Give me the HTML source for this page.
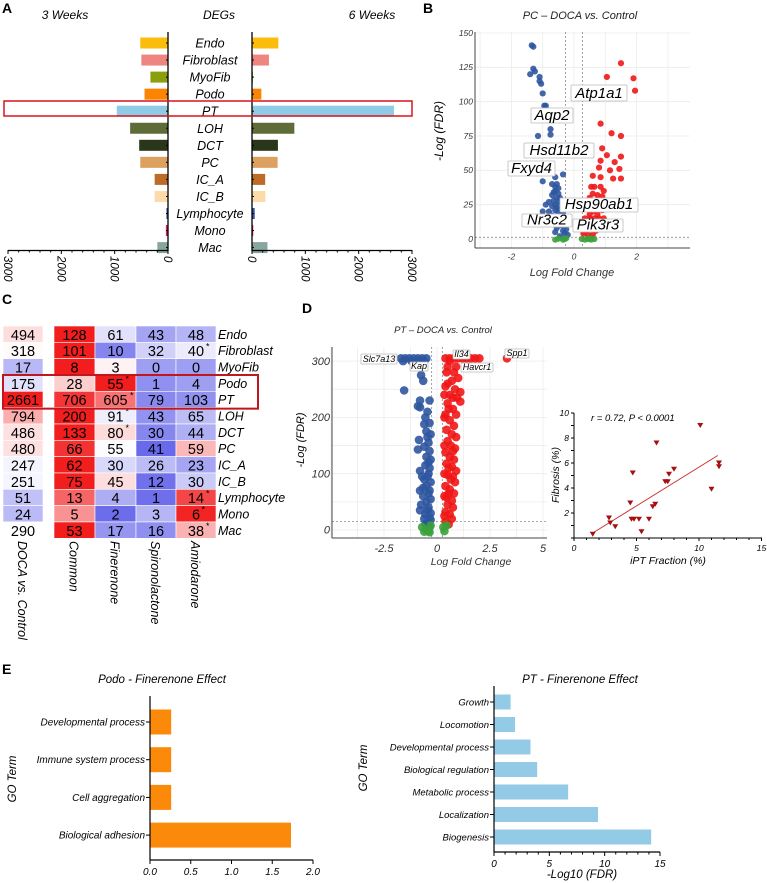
<!DOCTYPE html>
<html><head><meta charset="utf-8"><style>
html,body{margin:0;padding:0;background:#fff;}
svg{display:block;font-family:"Liberation Sans",sans-serif;}
.it{font-style:italic;}
</style></head><body>
<svg id="fig" width="767" height="883" viewBox="0 0 767 883">
<g font-weight="bold" font-size="14">
<text x="2" y="13">A</text>
<text x="423" y="13">B</text>
<text x="2" y="304">C</text>
<text x="302" y="313">D</text>
<text x="2" y="674">E</text>
</g>
<g id="pA"></g>
<g id="pB"></g>
<g id="pC"></g>
<g id="pD"></g>
<g id="pS"></g>
<g id="pE1"></g>
<g id="pE2"></g>
</svg>
<script>
// ---------- Panel A data ----------
const aCells=["Endo","Fibroblast","MyoFib","Podo","PT","LOH","DCT","PC","IC_A","IC_B","Lymphocyte","Mono","Mac"];
const aWeek3=[520,500,330,440,960,710,540,520,250,250,30,40,200];
const aWeek6=[494,318,17,175,2661,794,486,480,247,251,51,24,290];
const aColors=["#fbbd0b","#ef8580","#8b9f0c","#fb8500","#8fcae6","#5e6d38","#29361a","#dca15f","#bd6b27","#fddba8","#3a55a8","#e0245e","#86a69e"];
const aTicks=[0,1000,2000,3000];
// ---------- Panel B data ----------
const bBlue=[[-1.35,141],[-1.3,140],[-1.3,124],[-1.25,122],[-1.4,120],[-1.1,118],[-1.1,115],[-1.05,113],[-1.0,106],[-0.95,97],[-0.9,97],[-0.75,80],[-0.75,76],[-1.15,75],[-1.25,62],[-0.85,62],[-0.7,62],[-1.2,50],[-1.0,52],[-0.9,52],[-0.8,52],[-0.7,52],[-0.9,48],[-0.35,47],[-0.6,45],[-1.0,42],[-0.7,40],[-0.6,38],[-0.5,37],[-0.6,35],[-0.5,33],[-0.7,32],[-0.55,30],[-0.45,30],[-0.65,28],[-0.8,27],[-0.5,27],[-0.4,26],[-0.3,26],[-0.9,25],[-0.7,24],[-0.55,23],[-0.45,22],[-0.6,21],[-1.0,20],[-0.8,20],[-0.5,19],[-0.35,18],[-0.7,17],[-0.5,15],[-0.6,13],[-0.85,13],[-0.4,10],[-0.55,8],[-0.35,6],[-0.3,4],[-0.2,3],[-0.45,2],[-0.25,7],[-0.6,5],[-0.65,34],[-0.55,40],[-0.6,25],[-0.45,12]];
const bRed=[[1.5,128],[1.05,118],[1.9,117],[1.45,110],[1.95,108],[0.85,84],[1.2,77],[1.5,75],[0.9,66],[1.5,60],[1.05,61],[1.3,56],[0.85,57],[0.8,52],[1.15,50],[1.45,51],[0.6,46],[0.85,45],[1.25,44],[1.5,44],[0.55,38],[0.65,38],[0.85,38],[0.95,35],[0.6,33],[0.75,32],[0.9,31],[1.25,27],[0.5,30],[0.7,28],[1.0,28],[0.55,25],[0.8,25],[0.45,22],[0.6,20],[0.9,21],[0.35,15],[0.5,15],[0.65,15],[0.8,15],[0.95,15],[0.4,12],[0.55,12],[0.7,12],[0.85,12],[0.4,7],[0.55,7],[0.3,4],[0.45,3],[0.6,3],[0.7,6],[0.5,18],[0.75,18]];
const bGreen=[[-0.6,-0.5],[-0.35,-0.5],[-0.3,0],[0.25,0],[0.35,-0.5],[0.45,0],[0.55,-0.5],[0.65,0],[-0.5,0.2],[-0.25,0.5],[0.5,0.5]];
const bXTicks=[-2,0,2];
const bYTicks=[0,25,50,75,100,125,150];
// ---------- Panel C data ----------
const cRows=["Endo","Fibroblast","MyoFib","Podo","PT","LOH","DCT","PC","IC_A","IC_B","Lymphocyte","Mono","Mac"];
const cCols=["DOCA vs. Control","Common","Finerenone","Spironolactone","Amiodarone"];
const cDoca=[494,318,17,175,2661,794,486,480,247,251,51,24,290];
const cCommon=[128,101,8,28,706,200,133,66,62,75,13,5,53];
const cFin=[61,10,3,55,605,91,80,55,30,45,4,2,17];
const cSpiro=[43,32,0,1,79,43,30,41,26,12,1,3,16];
const cAmio=[48,40,0,4,103,65,44,59,23,30,14,6,38];
const cFinStar=[0,0,0,1,1,1,1,0,0,0,0,0,0];
const cAmioStar=[0,1,0,0,0,0,0,0,0,0,1,1,1];
// ---------- Panel D data ----------
const dBlue=[[-1.7,305],[-1.5,305],[-1.3,305],[-1.1,305],[-0.9,305],[-0.7,305],[-0.5,305],[-1.6,300],[-1.2,300],[-0.8,300],[-0.6,300],[-0.75,275],[-0.65,265],[-1.55,248],[-0.8,230],[-0.35,230],[-0.8,218],[-0.9,220],[-0.55,200],[-0.6,188],[-0.5,175],[-0.45,165],[-0.85,160],[-0.4,155],[-0.6,148],[-0.9,143],[-0.35,140],[-0.5,130],[-0.3,125],[-0.55,115],[-0.8,105],[-0.4,100],[-0.6,90],[-0.3,85],[-0.5,78],[-0.8,70],[-0.4,65],[-0.65,60],[-0.3,55],[-0.5,50],[-0.75,45],[-0.4,40],[-0.8,35],[-0.3,30],[-0.55,28],[-0.35,22],[-0.6,20],[-0.3,18],[-0.45,14],[-0.35,190],[-0.45,210],[-0.3,170],[-0.4,120],[-0.35,110],[-0.45,95],[-0.35,70],[-0.45,35],[-0.55,10],[-0.35,5],[-0.65,75],[-0.7,95]];
const dRed=[[0.4,305],[0.6,305],[0.8,305],[1.0,305],[1.2,305],[1.4,305],[1.6,305],[1.8,305],[2.0,305],[3.3,305],[0.5,290],[0.9,290],[1.0,270],[0.45,280],[0.7,265],[0.4,255],[0.85,250],[1.1,245],[0.6,240],[0.95,235],[1.1,228],[0.5,225],[0.75,215],[0.4,205],[0.9,205],[0.6,195],[0.8,185],[0.45,178],[0.7,170],[0.9,165],[0.5,158],[0.65,150],[0.85,145],[0.4,138],[0.6,130],[0.8,125],[0.45,118],[0.7,112],[0.9,105],[0.5,98],[0.65,90],[0.85,85],[0.4,78],[0.6,72],[0.8,65],[0.45,58],[0.7,52],[0.5,45],[0.75,40],[0.4,32],[0.6,28],[0.7,20],[0.4,15],[0.55,10],[0.35,25],[0.35,60],[0.35,100],[0.35,150],[0.35,200],[0.55,215],[0.55,110],[0.55,65],[0.75,95],[0.75,140],[0.75,235],[0.35,240],[0.6,300],[0.5,260],[0.8,280]];
const dGreen=[[-0.7,5],[-0.5,0],[-0.3,8],[-0.4,-2],[0.3,5],[0.45,8],[0.35,-2],[-0.6,-3],[-0.35,-4]];
const dXTicks=[-2.5,0,2.5,5];
const dYTicks=[0,100,200,300];
// ---------- Scatter data ----------
const sX=[1.5,2.8,2.9,3.3,4.5,4.6,4.7,4.8,5.2,5.4,6.0,6.3,6.5,6.6,7.3,7.5,7.6,8.0,10.1,11.0,11.6,11.6];
const sY=[0.3,1.6,1.2,0.9,2.8,1.5,5.2,1.5,1.5,0.5,1.5,2.5,2.7,7.6,4.5,4.5,5.1,5.5,9.0,3.9,6.0,5.7];
const sFit=[[1.5,0.4],[11.5,6.6]];
const sXTicks=[0,5,10,15];
const sYTicks=[2,4,6,8,10];
// ---------- Panel E data ----------
const e1Terms=["Developmental process","Immune system process","Cell aggregation","Biological adhesion"];
const e1Vals=[0.26,0.26,0.26,1.73];
const e1Ticks=[0,0.5,1.0,1.5,2.0];
const e2Terms=["Growth","Locomotion","Developmental process","Biological regulation","Metabolic process","Localization","Biogenesis"];
const e2Vals=[1.5,1.9,3.3,3.9,6.7,9.4,14.2];
const e2Ticks=[0,5,10,15];

const NS="http://www.w3.org/2000/svg";
function mk(parent,tag,attrs,txt){const e=document.createElementNS(NS,tag);for(const k in attrs)e.setAttribute(k,attrs[k]);if(txt!==undefined)e.textContent=txt;parent.appendChild(e);return e;}

// ===== Panel A =====
(function(){
const g=document.getElementById('pA');
const xL=v=>168-v*160/3000, xR=v=>252+v*160/3000, rowY=i=>43+i*17.05;
let t;
t=mk(g,'text',{x:65,y:19,'text-anchor':'middle','font-size':12,class:'it'},'3 Weeks');

t=mk(g,'text',{x:219,y:19,'text-anchor':'middle','font-size':12,class:'it'},'DEGs');

t=mk(g,'text',{x:372,y:19,'text-anchor':'middle','font-size':12,class:'it'},'6 Weeks');

aCells.forEach((c,i)=>{
 const y=rowY(i);
 let r=mk(g,'rect',{x:xL(aWeek3[i]),y:y-5.5,width:168-xL(aWeek3[i]),height:11,fill:aColors[i]});
 
 r=mk(g,'rect',{x:252,y:y-5.5,width:xR(aWeek6[i])-252,height:11,fill:aColors[i]});
 
 const l=mk(g,'text',{x:210,y:y+4.5,'text-anchor':'middle','font-size':12.5,class:'it'},c);
 
 mk(g,'line',{x1:166,x2:168,y1:y,y2:y,stroke:'#000'});
 mk(g,'line',{x1:252,x2:254,y1:y,y2:y,stroke:'#000'});
});
mk(g,'line',{x1:168,x2:168,y1:32,y2:251,stroke:'#000','stroke-width':1.3});
mk(g,'line',{x1:252,x2:252,y1:32,y2:251,stroke:'#000','stroke-width':1.3});
mk(g,'line',{x1:8,x2:168,y1:250.5,y2:250.5,stroke:'#000','stroke-width':1.3});
mk(g,'line',{x1:252,x2:412,y1:250.5,y2:250.5,stroke:'#000','stroke-width':1.3});
for(let v=0;v<=3000;v+=200){
 const big=v%1000===0;
 mk(g,'line',{x1:xL(v),x2:xL(v),y1:250,y2:big?254:252.5,stroke:'#000'});
 mk(g,'line',{x1:xR(v),x2:xR(v),y1:250,y2:big?254:252.5,stroke:'#000'});
}
aTicks.forEach(v=>{
 let a=mk(g,'text',{x:0,y:0,'font-size':11.5,class:'it',transform:`translate(${xL(v)-4},256) rotate(90)`},String(v));
 
 a=mk(g,'text',{x:0,y:0,'font-size':11.5,class:'it',transform:`translate(${xR(v)-4},256) rotate(90)`},String(v));
 
});
const box=mk(g,'rect',{x:4,y:101,width:408,height:15,fill:'none',stroke:'#d8141c','stroke-width':1.5});

})();

// ===== Volcano helper =====
function volcano(g,o){
 const X=v=>o.x0+(v-o.xmin)*o.sx, Y=v=>o.y0-v*o.sy;
 mk(g,'rect',{x:o.L,y:o.T,width:o.R-o.L,height:o.B-o.T,fill:'#fff'});
 o.xgrid.forEach(v=>mk(g,'line',{x1:X(v),x2:X(v),y1:o.T,y2:o.B,stroke:'#ececec','stroke-width':0.8}));
 o.ygrid.forEach(v=>mk(g,'line',{x1:o.L,x2:o.R,y1:Y(v),y2:Y(v),stroke:'#ececec','stroke-width':0.8}));
 o.vdash.forEach(v=>mk(g,'line',{x1:X(v),x2:X(v),y1:o.T,y2:o.B,stroke:'#777','stroke-dasharray':'2,2','stroke-width':0.7}));
 mk(g,'line',{x1:o.L,x2:o.R,y1:Y(o.hdash),y2:Y(o.hdash),stroke:'#777','stroke-dasharray':'2,2','stroke-width':0.7});
 [[o.blue,'#2f56a0','blue'],[o.red,'#f01616','red'],[o.green,'#3aa23a','green']].forEach(([pts,col,nm])=>{
  pts.forEach(p=>{const c=mk(g,'circle',{cx:X(p[0]),cy:Y(p[1]),r:o.r,fill:col,'fill-opacity':0.9});
   });
 });
 mk(g,'line',{x1:o.L,x2:o.L,y1:o.T,y2:o.B,stroke:'#444','stroke-width':1});
 mk(g,'line',{x1:o.L,x2:o.R,y1:o.B,y2:o.B,stroke:'#444','stroke-width':1});
 o.xticks.forEach(v=>{const t=mk(g,'text',{x:X(v),y:o.B+o.fs+3,'text-anchor':'middle','font-size':o.fs,class:'it',fill:'#333'},String(v));
  });
 o.yticks.forEach(v=>{const t=mk(g,'text',{x:o.L-2,y:Y(v)+o.fs/3,'text-anchor':'end','font-size':o.fs,class:'it',fill:'#333'},String(v));
  });
 return {X,Y};
}
function gene(g,x,y,w,h,txt,fs){
 const r=mk(g,'rect',{x:x,y:y,width:w,height:h,fill:'#fff',stroke:'#bbb','stroke-width':0.8,rx:1});
 
 const t=mk(g,'text',{x:x+w/2,y:y+h-h*0.2,'text-anchor':'middle','font-size':fs,class:'it'},txt);
 
}

// ===== Panel B =====
(function(){
const g=document.getElementById('pB');
let t=mk(g,'text',{x:580,y:19,'text-anchor':'middle','font-size':11,class:'it',fill:'#222'},'PC – DOCA vs. Control');

volcano(g,{L:475,R:690,T:32,B:248,x0:574,xmin:0,sx:31.3,y0:239,sy:206/150,
 xgrid:[-3,-2,-1,0,1,2,3],ygrid:[0,25,50,75,100,125,150],vdash:[-0.27,0.27],hdash:1.3,
 blue:bBlue,red:bRed,green:bGreen,r:3.1,xticks:bXTicks,yticks:bYTicks,fs:8.5});
gene(g,571,85,56,16,'Atp1a1',15);
gene(g,531,108,42,15,'Aqp2',15);
gene(g,524,143,70,15,'Hsd11b2',15);
gene(g,508,161,47,15,'Fxyd4',15);
gene(g,560,198,78,14,'Hsp90ab1',15);
gene(g,522,214,50,13,'Nr3c2',15);
gene(g,573,219,50,13,'Pik3r3',15);
t=mk(g,'text',{x:0,y:0,'font-size':12,class:'it',transform:'translate(443,131) rotate(-90)','text-anchor':'middle'},'-Log (FDR)');

t=mk(g,'text',{x:572,y:276,'font-size':11,class:'it','text-anchor':'middle',fill:'#333'},'Log Fold Change');

})();

// ===== Panel C =====
(function(){
const g=document.getElementById('pC');
const top=326,rh=16.33;
const colX=[3,54,95,136,176], cw=[40,41,41,40,40];
function col(z){z=Math.max(-1,Math.min(1,z));
 if(z>=0){const k=z;return `rgb(${Math.round(255-k*13)},${Math.round(255-k*225)},${Math.round(255-k*225)})`;}
 const k=-z;return `rgb(${Math.round(255-k*150)},${Math.round(255-k*150)},${Math.round(255-k*20)})`;}
const sorted=cDoca.slice().sort((a,b)=>a-b);const med=sorted[Math.floor(sorted.length/2)];
const others=[cCommon,cFin,cSpiro,cAmio];
cRows.forEach((rn,i)=>{
 const y=top+i*rh;
 const dv=cDoca[i];
 const zD=dv>=med?(dv-med)/1400:0.5*(dv-med)/med;
 const vals=others.map(a=>a[i]);const mm=vals.reduce((a,b)=>a+b)/4;
 const s=Math.sqrt(vals.reduce((a,b)=>a+(b-mm)*(b-mm),0)/4)||1;
 const all=[dv].concat(vals);
 all.forEach((v,j)=>{
  const z=j===0?zD:(v-mm)/s/1.3;
  const r=mk(g,'rect',{x:colX[j],y:y,width:cw[j],height:rh,fill:col(z),stroke:'#fff','stroke-width':0.6});
  
  const star=(j===2&&cFinStar[i])||(j===4&&cAmioStar[i]);
  const t=mk(g,'text',{x:colX[j]+cw[j]/2,y:y+rh-2.5,'text-anchor':'middle','font-size':14.5},String(v));
  
  if(star){mk(g,'text',{x:colX[j]+cw[j]/2+(String(v).length*4.5)+1,y:y+7,'font-size':9},'*');}
 });
 const l=mk(g,'text',{x:218,y:y+rh-3.5,'font-size':12.5,class:'it'},rn);
 
});
cCols.forEach((c,j)=>{
 const t=mk(g,'text',{x:0,y:0,'font-size':12.5,class:'it',transform:`translate(${colX[j]+cw[j]/2-5},541) rotate(90)`},c);
 
});
const b=mk(g,'rect',{x:3,y:top+3*rh,width:255,height:2*rh+1,fill:'none',stroke:'#c0161e','stroke-width':2});

})();

// ===== Panel D volcano =====
(function(){
const g=document.getElementById('pD');
let t=mk(g,'text',{x:443,y:333,'text-anchor':'middle','font-size':9.5,class:'it',fill:'#222'},'PT – DOCA vs. Control');

volcano(g,{L:332,R:547,T:347,B:538,x0:437,xmin:0,sx:21.2,y0:530,sy:56.3/100,
 xgrid:[-5,-3.75,-2.5,-1.25,0,1.25,2.5,3.75,5],ygrid:[0,50,100,150,200,250,300],vdash:[-0.25,0.25],hdash:15,
 blue:dBlue,red:dRed,green:dGreen,r:4.3,xticks:dXTicks,yticks:dYTicks,fs:11});
gene(g,361,354,36,10,'Slc7a13',9);
gene(g,410,362,18,9,'Kap',9);
gene(g,453,350,17,9,'Il34',9);
gene(g,461,363,32,9,'Havcr1',9);
gene(g,505,349,24,9,'Spp1',9);
t=mk(g,'text',{x:0,y:0,'font-size':11,class:'it',transform:'translate(304,440) rotate(-90)','text-anchor':'middle'},'-Log (FDR)');

t=mk(g,'text',{x:471,y:565,'font-size':10.5,class:'it','text-anchor':'middle',fill:'#333'},'Log Fold Change');

})();

// ===== Scatter =====
(function(){
const g=document.getElementById('pS');
const X=v=>574+v*12.5, Y=v=>538-v*12.5;
mk(g,'line',{x1:574,x2:574,y1:413,y2:538,stroke:'#000'});
mk(g,'line',{x1:574,x2:762,y1:538,y2:538,stroke:'#000'});
for(let v=0;v<=15;v++)mk(g,'line',{x1:X(v),x2:X(v),y1:538,y2:v%5===0?541:540,stroke:'#000'});
for(let v=0;v<=10;v++)mk(g,'line',{x1:571,x2:574,y1:Y(v),y2:Y(v),stroke:'#000'});
sXTicks.forEach(v=>{const t=mk(g,'text',{x:X(v),y:551,'text-anchor':'middle','font-size':8.5,class:'it'},String(v));
 });
sYTicks.forEach(v=>{const t=mk(g,'text',{x:569,y:Y(v)+3,'text-anchor':'end','font-size':8.5,class:'it'},String(v));
 });
const fl=mk(g,'line',{x1:X(sFit[0][0]),y1:Y(sFit[0][1]),x2:X(sFit[1][0]),y2:Y(sFit[1][1]),stroke:'#c33','stroke-width':1});

sX.forEach((x,i)=>{const cx=X(x),cy=Y(sY[i]);
 const p=mk(g,'polygon',{points:`${cx-3},${cy-2.5} ${cx+3},${cy-2.5} ${cx},${cy+2.5}`,fill:'#a50f0f'});
 });
let t=mk(g,'text',{x:591,y:421,'font-size':9.5,class:'it'},'r = 0.72, P < 0.0001');

t=mk(g,'text',{x:0,y:0,'font-size':10.5,class:'it','text-anchor':'middle',transform:'translate(559,475) rotate(-90)'},'Fibrosis (%)');

t=mk(g,'text',{x:668,y:564,'font-size':10.5,class:'it','text-anchor':'middle'},'iPT Fraction (%)');

})();

// ===== Panel E =====
function goBar(g,o){
 const X=v=>o.x0+v*o.sx;
 let t=mk(g,'text',{x:o.tx,y:o.ty,'text-anchor':'middle','font-size':11.5,class:'it'},o.title);
 
 o.terms.forEach((term,i)=>{const cy=o.c0+i*o.step;
  const r=mk(g,'rect',{x:o.x0,y:cy-o.bh/2,width:X(o.vals[i])-o.x0,height:o.bh,fill:o.color});
  
  mk(g,'line',{x1:o.x0-4,x2:o.x0,y1:cy,y2:cy,stroke:'#000'});
  const l=mk(g,'text',{x:o.x0-5,y:cy+3.5,'text-anchor':'end','font-size':o.lfs,class:'it'},term);
  
 });
 mk(g,'line',{x1:o.x0,x2:o.x0,y1:o.yT,y2:o.yB,stroke:'#000','stroke-width':1.2});
 mk(g,'line',{x1:o.x0,x2:X(o.ticks[o.ticks.length-1]),y1:o.yB,y2:o.yB,stroke:'#000','stroke-width':1.2});
 o.minor.forEach(v=>mk(g,'line',{x1:X(v),x2:X(v),y1:o.yB,y2:o.yB+2.5,stroke:'#000'}));
 o.ticks.forEach(v=>{mk(g,'line',{x1:X(v),x2:X(v),y1:o.yB,y2:o.yB+4,stroke:'#000'});
  const t=mk(g,'text',{x:X(v),y:o.yB+15,'text-anchor':'middle','font-size':10,class:'it'},o.fmt(v));
  });
 t=mk(g,'text',{x:0,y:0,'font-size':11.5,class:'it','text-anchor':'middle',transform:`translate(${o.gx},${o.gy}) rotate(-90)`},'GO Term');
 
 if(o.xlabel){t=mk(g,'text',{x:o.xlx,y:o.xly,'font-size':11.5,class:'it','text-anchor':'middle'},o.xlabel);
  }
}
goBar(document.getElementById('pE1'),{title:'Podo - Finerenone Effect',tx:162,ty:683,terms:e1Terms,vals:e1Vals,ticks:e1Ticks,
 minor:[],x0:150,sx:163/2,c0:722,step:37.7,bh:25,yT:696,yB:860,color:'#fb8a0a',fmt:v=>v.toFixed(1),gx:16,gy:779,lfs:10});
goBar(document.getElementById('pE2'),{title:'PT - Finerenone Effect',tx:580,ty:683,terms:e2Terms,vals:e2Vals,ticks:e2Ticks,
 minor:[1,2,3,4,6,7,8,9,11,12,13,14],x0:494,sx:166/15,c0:702,step:22.5,bh:15,yT:686,yB:852,color:'#93cae6',fmt:v=>String(v),
 gx:367,gy:768,xlabel:'-Log10 (FDR)',xlx:582,xly:878,lfs:9.5});
</script>
</body></html>
